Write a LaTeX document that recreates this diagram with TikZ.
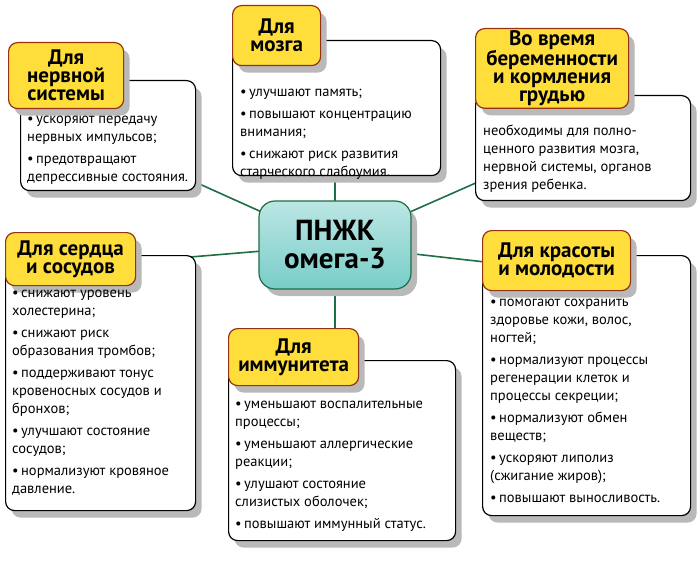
\documentclass[tikz,border=0pt]{standalone}
\usepackage{fontspec}
\setmainfont{PT Sans}
\usetikzlibrary{positioning,shadows}
\definecolor{headfill}{RGB}{255,222,60}
\definecolor{headdraw}{RGB}{150,50,20}
\definecolor{linkgreen}{RGB}{30,110,70}
\definecolor{centerfill}{RGB}{120,205,200}
\tikzset{
    x=1pt, y=-1pt,
    body/.style={
        rectangle, rounded corners=9pt,
        draw=black, very thick, fill=white,
        anchor=north west,
        drop shadow={shadow xshift=6pt, shadow yshift=-7pt, fill=gray!55, opacity=1}
    },
    head/.style={
        rectangle, rounded corners=9pt,
        draw=headdraw, very thick, fill=headfill,
        anchor=north west, align=center, inner sep=2pt,
        font=\fontsize{21}{18}\selectfont\bfseries,
        drop shadow={shadow xshift=6pt, shadow yshift=-7pt, fill=gray!55, opacity=1}
    },
    txt/.style={
        anchor=north west, align=left, inner sep=0pt,
        font=\fontsize{14.5}{18}\selectfont
    },
    link/.style={draw=linkgreen, line width=1.6pt}
}
\newcommand{\pt}{\textbullet\,}
\begin{document}
\begin{tikzpicture}
\useasboundingbox (0,0) rectangle (700,561);
% -- links -- %
\coordinate (cn) at (335,245);
\draw[link] (195,182) -- (cn);
\draw[link] (335,170) -- (cn);
\draw[link] (478,182) -- (cn);
\draw[link] (130,262) -- (cn);
\draw[link] (335,330) -- (cn);
\draw[link] (485,262) -- (cn);
% -- center -- %
\node[rectangle, rounded corners=16pt, draw=linkgreen, very thick,
      top color=centerfill!50, bottom color=centerfill,
      minimum width=152pt, minimum height=88pt, align=center,
      font=\fontsize{29}{28}\selectfont\bfseries,
      drop shadow={shadow xshift=6pt, shadow yshift=-7pt, fill=gray!55, opacity=1}]
      (omega) at (335,245) {ПНЖК\\омега-3};
% -- nerve -- %
\node[body, minimum width=175pt, minimum height=110pt] (nervB) at (20,80) {};
\node[head, minimum width=115pt, minimum height=66pt] (nervH) at (8,42) {Для\\нервной\\системы};
\node[txt] (nervT) at (27,116) {\pt ускоряют передачу\\нервных импульсов;\\[4pt]
    \pt предотвращают\\депрессивные состояния.};
% -- brain -- %
\node[body, minimum width=208pt, minimum height=135pt] (brainB) at (232,40) {};
\node[head, minimum width=88pt, minimum height=60pt] (brainH) at (232,5) {Для\\мозга};
\node[txt] (brainT) at (240,89) {\pt улучшают память;\\[4pt]
    \pt повышают концентрацию\\внимания;\\[4pt]
    \pt снижают риск развития\\старческого слабоумия.};
% -- pregnancy -- %
\node[body, minimum width=215pt, minimum height=105pt] (pregB) at (475,95) {};
\node[head, minimum width=153pt, minimum height=69pt] (pregH) at (475,28) {Во время\\беременности\\и кормления\\грудью};
\node[txt] (pregT) at (483,125) {необходимы для полно-\\ценного развития мозга,\\нервной системы, органов\\зрения ребенка.};
% -- heart -- %
\node[body, minimum width=190pt, minimum height=255pt] (heartB) at (5,255) {};
\node[head, minimum width=130pt, minimum height=53pt] (heartH) at (5,232) {Для сердца\\и сосудов};
\node[txt] (heartT) at (12,290) {\pt снижают уровень\\холестерина;\\[4pt]
    \pt снижают риск\\образования тромбов;\\[4pt]
    \pt поддерживают тонус\\кровеносных сосудов и\\бронхов;\\[4pt]
    \pt улучшают состояние\\сосудов;\\[4pt]
    \pt нормализуют кровяное\\давление.};
% -- immunity -- %
\node[body, minimum width=227pt, minimum height=180pt] (immB) at (228,360) {};
\node[head, minimum width=130pt, minimum height=57pt] (immH) at (228,328) {Для\\иммунитета};
\node[txt] (immT) at (235,401) {\pt уменьшают воспалительные\\процессы;\\[4pt]
    \pt уменьшают аллергические\\реакции;\\[4pt]
    \pt улушают состояние\\слизистых оболочек;\\[4pt]
    \pt повышают иммунный статус.};
% -- beauty -- %
\node[body, minimum width=208pt, minimum height=260pt] (beautyB) at (482,255) {};
\node[head, minimum width=148pt, minimum height=60pt] (beautyH) at (482,230) {Для красоты\\и молодости};
\node[txt] (beautyT) at (490,299) {\pt помогают сохранить\\здоровье кожи, волос,\\ногтей;\\[4pt]
    \pt нормализуют процессы\\регенерации клеток и\\процессы секреции;\\[4pt]
    \pt нормализуют обмен\\веществ;\\[4pt]
    \pt ускоряют липолиз\\(сжигание жиров);\\[4pt]
    \pt повышают выносливость.};
\end{tikzpicture}
\end{document}
